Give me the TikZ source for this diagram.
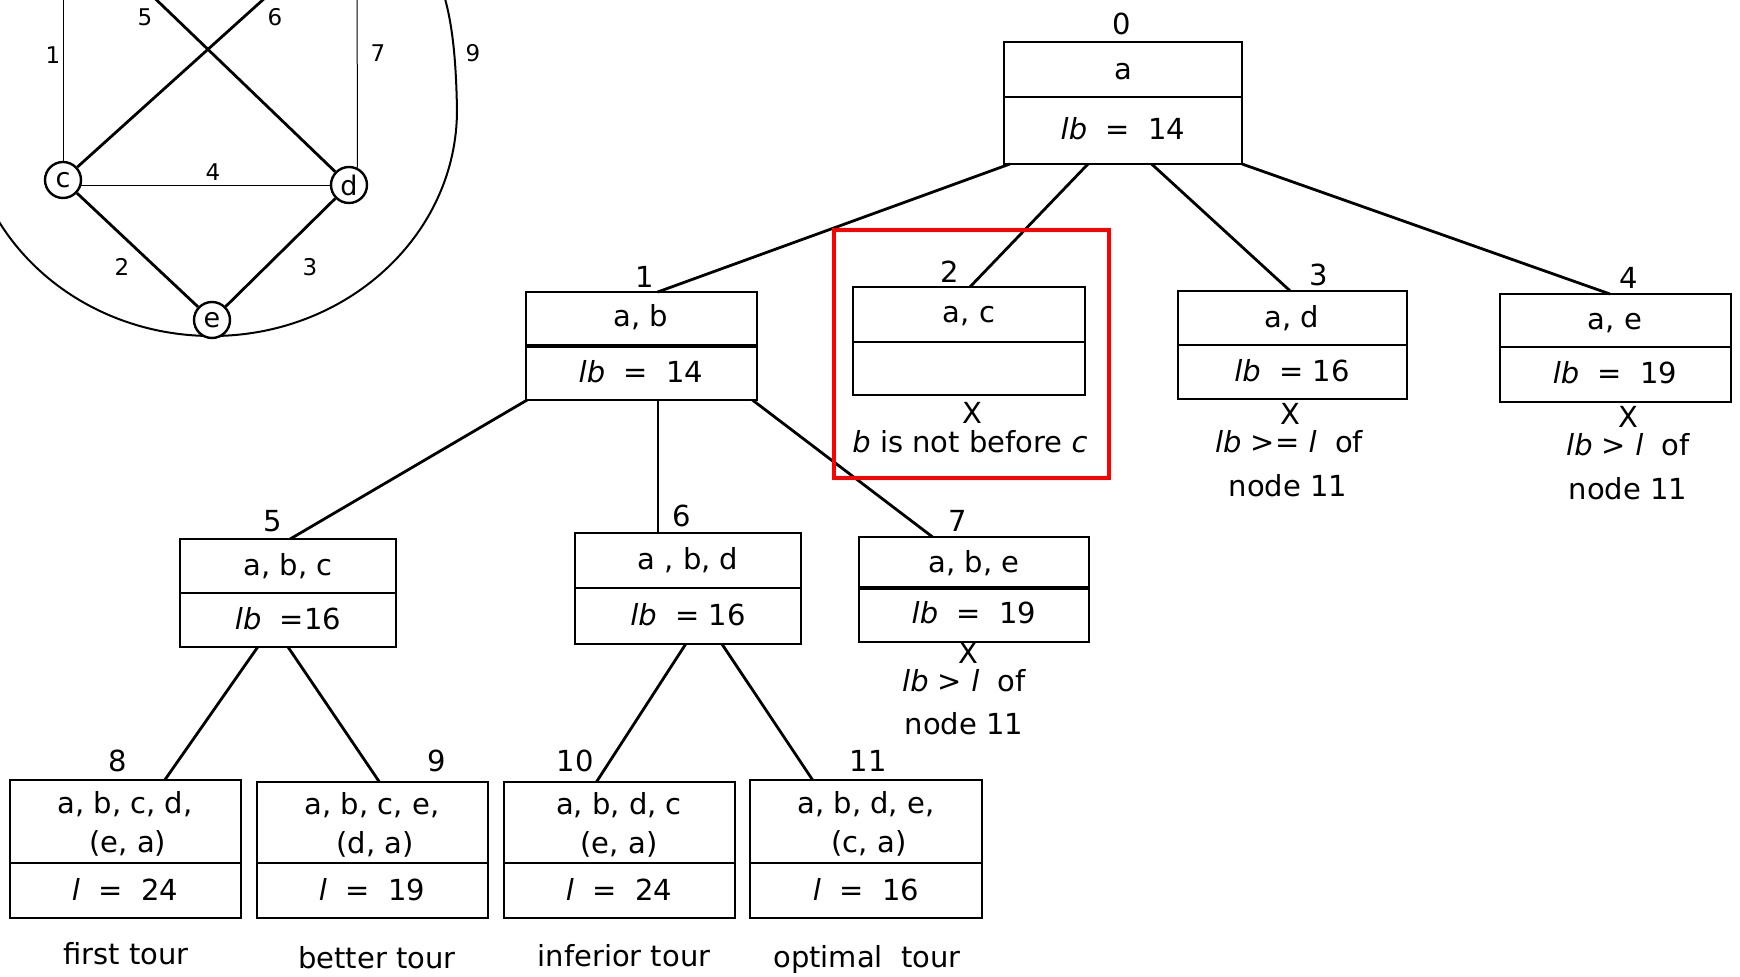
\documentclass[tikz,border=0pt]{standalone}
\usepackage{fontspec}
\setmainfont{DejaVu Sans}
\usetikzlibrary{fit,calc}
\newcommand\tbox[6]{%
  \node[tb, fit={(#2,#3) (#4,#5)}] (#1) {};
  \draw[divider] (#2,#6) -- (#4,#6);}
\newcommand\tboxthick[6]{%
  \node[tb, fit={(#2,#3) (#4,#5)}] (#1) {};
  \draw[thickdiv] (#2,#6) -- (#4,#6);}
\begin{document}
\begin{tikzpicture}[x=0.5pt,y=-0.5pt,
  tb/.style={draw, line width=1.25pt, inner sep=0pt, outer sep=0pt},
  divider/.style={line width=0.7pt},
  thickdiv/.style={line width=1.7pt},
  edge/.style={line width=1.4pt},
  txt/.style={font=\fontsize{14.5}{18}\selectfont, inner sep=0pt, anchor=base},
  glbl/.style={font=\fontsize{11.5}{13}\selectfont, inner sep=0pt},
  vert/.style={circle, draw, fill=white, line width=1.2pt, minimum size=18pt, inner sep=0pt, font=\fontsize{13.5}{15}\selectfont},
  thinedge/.style={line width=0.5pt},
  thickedge/.style={line width=1.4pt},
  hlbox/.style={draw=red, line width=2pt, inner sep=0pt}
]
\useasboundingbox (0,0) rectangle (1740,977);
\fill[white] (0,0) rectangle (1740,977);
\begin{scope}
\clip (0,0) rectangle (1740,977);
% ---------- small graph ----------
\coordinate (a) at (63,-90);
\coordinate (b) at (357,-85);
\draw[line width=1pt] (b) .. controls (440,-70) and (455,0) .. (457,110)
   arc[start angle=0, end angle=180, x radius=245, y radius=226]
   .. controls (-33,-20) and (20,-90) .. (a);
\node[vert] (c) at (63,180) {c};
\node[vert] (d) at (349,185) {d};
\node[vert] (e) at (212,320) {e};
\draw[thinedge] (a) -- (c);
\draw[thinedge] (b) -- (d.64);
\draw[thinedge] (c.-16) -- (d.west |- c.-16);
\draw[thickedge] (a) -- (d);
\draw[thickedge] (c) -- (b);
\draw[thickedge] (c) -- (e);
\draw[thickedge] (d) -- (e);
\node[glbl] (w1) at (53,55) {1};
\node[glbl] (w5) at (145,17) {5};
\node[glbl] (w6) at (275,17) {6};
\node[glbl] (w7) at (378,53) {7};
\node[glbl] (w4) at (213,172) {4};
\node[glbl] (w2) at (122,267) {2};
\node[glbl] (w3) at (310,267) {3};
\node[glbl] (w9) at (473,53) {9};
% ---------- tree boxes ----------
\tbox{n0}{1004}{42}{1242}{164}{97}
\tboxthick{n1}{526}{292}{757}{400}{346}
\tbox{n2}{853}{287}{1085}{395}{342}
\tbox{n3}{1178}{291}{1407}{399}{345}
\tbox{n4}{1500}{294}{1731}{402}{347}
\tbox{n5}{180}{539}{396}{647}{593}
\tbox{n6}{575}{533}{801}{644}{588}
\tboxthick{n7}{859}{537}{1089}{642}{588}
\tbox{n8}{10}{780}{241}{918}{863}
\tbox{n9}{257}{782}{488}{918}{863}
\tbox{n10}{504}{782}{735}{918}{863}
\tbox{n11}{750}{780}{982}{918}{863}
% box texts
\node[txt] (n0t) at (1123,80) {a};
\node[txt] (n0b) at (1123,140) {\textit{lb}~~=~~14};
\node[txt] (n1t) at (641,327) {a, b};
\node[txt] (n1b) at (641,383) {\textit{lb}~~=~~14};
\node[txt] (n2t) at (969,323) {a, c};
\node[txt] (n3t) at (1292,328) {a, d};
\node[txt] (n3b) at (1292,382) {\textit{lb}~~=~16};
\node[txt] (n4t) at (1615,330) {a, e};
\node[txt] (n4b) at (1615,384) {\textit{lb}~~=~~19};
\node[txt] (n5t) at (288,576) {a, b, c};
\node[txt] (n5b) at (288,630) {\textit{lb}~~=16};
\node[txt] (n6t) at (688,570) {a , b, d};
\node[txt] (n6b) at (688,626) {\textit{lb}~~=~16};
\node[txt] (n7t) at (974,573) {a, b, e};
\node[txt] (n7b) at (974,624) {\textit{lb}~~=~~19};
\node[txt] (n8t) at (125,813) {a, b, c, d,};
\node[txt] (n8u) at (128,852) {(e, a)};
\node[txt] (n8b) at (125,900) {\textit{l}~~=~~24};
\node[txt] (n9t) at (372,814) {a, b, c, e,};
\node[txt] (n9u) at (375,853) {(d, a)};
\node[txt] (n9b) at (372,900) {\textit{l}~~=~~19};
\node[txt] (n10t) at (619,814) {a, b, d, c};
\node[txt] (n10u) at (619,853) {(e, a)};
\node[txt] (n10b) at (619,900) {\textit{l}~~=~~24};
\node[txt] (n11t) at (866,813) {a, b, d, e,};
\node[txt] (n11u) at (869,852) {(c, a)};
\node[txt] (n11b) at (866,900) {\textit{l}~~=~~16};
% node numbers
\node[txt] (l0) at (1122,35) {0};
\node[txt] (l1) at (645,288) {1};
\node[txt] (l2) at (950,283) {2};
\node[txt] (l3) at (1319,286) {3};
\node[txt] (l4) at (1629,289) {4};
\node[txt] (l5) at (273,532) {5};
\node[txt] (l6) at (682,527) {6};
\node[txt] (l7) at (958,532) {7};
\node[txt] (l8) at (118,772) {8};
\node[txt] (l9) at (437,772) {9};
\node[txt] (l10) at (575,772) {10};
\node[txt] (l11) at (868,772) {11};
% pruning notes
\node[txt] (x2) at (972,424) {X};
\node[txt] (r2) at (970,453) {\textit{b} is not before \textit{c}};
\node[txt] (x3) at (1290,425) {X};
\node[txt] (r3) at (1289,453) {\textit{lb}~>=~\textit{l}~~of};
\node[txt] (s3) at (1288,497) {node 11};
\node[txt] (x4) at (1628,428) {X};
\node[txt] (r4) at (1628,456) {\textit{lb}~>~\textit{l}~~of};
\node[txt] (s4) at (1628,500) {node 11};
\node[txt] (x7) at (968,664) {X};
\node[txt] (r7) at (964,692) {\textit{lb}~>~\textit{l}~~of};
\node[txt] (s7) at (964,735) {node 11};
% captions
\node[txt] (c8) at (126,964) {first tour};
\node[txt] (c9) at (377,968) {better tour};
\node[txt] (c10) at (624,966) {inferior tour};
\node[txt] (c11) at (867,967) {optimal~~tour};
% tree edges
\draw[edge] ($(n0.south west)!0.025!(n0.south east)$) -- ($(n1.north west)!0.57!(n1.north east)$);
\draw[edge] ($(n0.south west)!0.353!(n0.south east)$) -- ($(n2.north west)!0.504!(n2.north east)$);
\draw[edge] ($(n0.south west)!0.62!(n0.south east)$) -- ($(n3.north west)!0.49!(n3.north east)$);
\draw[edge] ($(n0.south west)!1!(n0.south east)$) -- ($(n4.north west)!0.476!(n4.north east)$);
\draw[edge] ($(n1.south west)!0.005!(n1.south east)$) -- ($(n5.north west)!0.51!(n5.north east)$);
\coordinate (s16) at ($(n1.south west)!0.571!(n1.south east)$);
\draw[line width=0.8pt] (s16) -- (s16 |- n6.north);
\draw[edge] ($(n1.south west)!0.98!(n1.south east)$) -- ($(n7.north west)!0.32!(n7.north east)$);
\draw[edge] ($(n5.south west)!0.36!(n5.south east)$) -- ($(n8.north west)!0.67!(n8.north east)$);
\draw[edge] ($(n5.south west)!0.50!(n5.south east)$) -- ($(n9.north west)!0.53!(n9.north east)$);
\draw[edge] ($(n6.south west)!0.49!(n6.south east)$) -- ($(n10.north west)!0.40!(n10.north east)$);
\draw[edge] ($(n6.south west)!0.65!(n6.south east)$) -- ($(n11.north west)!0.27!(n11.north east)$);
% highlight
\node[hlbox, fit={(834,230) (1109,478)}] (hl) {};
\end{scope}
\end{tikzpicture}
\end{document}
